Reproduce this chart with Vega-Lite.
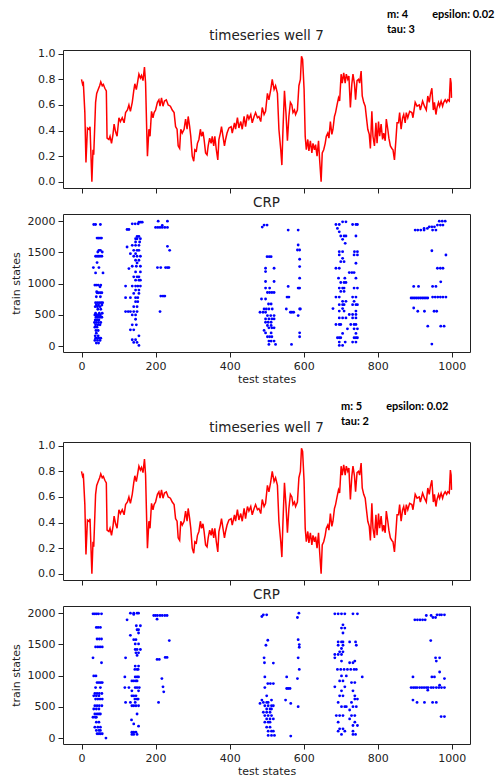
{
"$schema": "https://vega.github.io/schema/vega-lite/v6.json",
"padding": {"left": 9, "top": 8, "right": 0, "bottom": 0},
"background": "white",
"spacing": 15,
"datasets": {
"ts": [{"t":0,"v":0.80},{"t":3,"v":0.76},{"t":5,"v":0.77},{"t":9,"v":0.54},{"t":12,"v":0.15},{"t":16,"v":0.42},{"t":20,"v":0.41},{"t":23,"v":0.43},{"t":25,"v":0.25},{"t":28,"v":0.0},{"t":31,"v":0.25},{"t":33,"v":0.21},{"t":38,"v":0.62},{"t":41,"v":0.69},{"t":45,"v":0.72},{"t":49,"v":0.75},{"t":52,"v":0.78},{"t":56,"v":0.75},{"t":59,"v":0.76},{"t":63,"v":0.73},{"t":67,"v":0.71},{"t":69,"v":0.34},{"t":74,"v":0.33},{"t":77,"v":0.355},{"t":81,"v":0.30},{"t":85,"v":0.37},{"t":88,"v":0.45},{"t":92,"v":0.39},{"t":96,"v":0.355},{"t":101,"v":0.50},{"t":105,"v":0.47},{"t":110,"v":0.50},{"t":115,"v":0.46},{"t":119,"v":0.54},{"t":124,"v":0.56},{"t":128,"v":0.60},{"t":132,"v":0.55},{"t":137,"v":0.62},{"t":141,"v":0.71},{"t":144,"v":0.765},{"t":148,"v":0.72},{"t":151,"v":0.77},{"t":155,"v":0.84},{"t":159,"v":0.81},{"t":162,"v":0.83},{"t":166,"v":0.79},{"t":170,"v":0.895},{"t":173,"v":0.77},{"t":176,"v":0.41},{"t":178,"v":0.20},{"t":182,"v":0.41},{"t":185,"v":0.355},{"t":189,"v":0.55},{"t":193,"v":0.50},{"t":196,"v":0.54},{"t":200,"v":0.56},{"t":205,"v":0.62},{"t":209,"v":0.64},{"t":212,"v":0.59},{"t":216,"v":0.655},{"t":220,"v":0.59},{"t":224,"v":0.63},{"t":229,"v":0.64},{"t":234,"v":0.60},{"t":240,"v":0.59},{"t":245,"v":0.56},{"t":250,"v":0.54},{"t":254,"v":0.43},{"t":258,"v":0.41},{"t":261,"v":0.28},{"t":265,"v":0.26},{"t":268,"v":0.41},{"t":272,"v":0.38},{"t":277,"v":0.41},{"t":281,"v":0.49},{"t":285,"v":0.41},{"t":288,"v":0.51},{"t":292,"v":0.43},{"t":295,"v":0.355},{"t":299,"v":0.20},{"t":303,"v":0.16},{"t":306,"v":0.25},{"t":310,"v":0.24},{"t":313,"v":0.30},{"t":317,"v":0.33},{"t":321,"v":0.41},{"t":324,"v":0.355},{"t":328,"v":0.39},{"t":331,"v":0.33},{"t":335,"v":0.225},{"t":339,"v":0.21},{"t":342,"v":0.28},{"t":346,"v":0.34},{"t":350,"v":0.30},{"t":353,"v":0.355},{"t":357,"v":0.28},{"t":360,"v":0.355},{"t":364,"v":0.25},{"t":368,"v":0.17},{"t":371,"v":0.33},{"t":375,"v":0.38},{"t":378,"v":0.43},{"t":382,"v":0.355},{"t":386,"v":0.28},{"t":389,"v":0.33},{"t":393,"v":0.38},{"t":398,"v":0.42},{"t":404,"v":0.43},{"t":407,"v":0.38},{"t":413,"v":0.46},{"t":416,"v":0.41},{"t":421,"v":0.50},{"t":425,"v":0.42},{"t":430,"v":0.47},{"t":434,"v":0.41},{"t":439,"v":0.51},{"t":443,"v":0.43},{"t":448,"v":0.525},{"t":452,"v":0.49},{"t":457,"v":0.525},{"t":461,"v":0.46},{"t":466,"v":0.51},{"t":470,"v":0.54},{"t":475,"v":0.50},{"t":479,"v":0.51},{"t":484,"v":0.47},{"t":488,"v":0.58},{"t":493,"v":0.525},{"t":497,"v":0.55},{"t":502,"v":0.69},{"t":506,"v":0.64},{"t":511,"v":0.72},{"t":515,"v":0.80},{"t":520,"v":0.72},{"t":524,"v":0.75},{"t":529,"v":0.69},{"t":533,"v":0.41},{"t":538,"v":0.25},{"t":541,"v":0.13},{"t":544,"v":0.41},{"t":548,"v":0.71},{"t":552,"v":0.54},{"t":556,"v":0.32},{"t":560,"v":0.51},{"t":564,"v":0.62},{"t":568,"v":0.60},{"t":571,"v":0.54},{"t":575,"v":0.56},{"t":578,"v":0.525},{"t":583,"v":0.56},{"t":587,"v":0.75},{"t":591,"v":0.80},{"t":594,"v":0.98},{"t":597,"v":0.955},{"t":601,"v":0.72},{"t":604,"v":0.355},{"t":607,"v":0.25},{"t":611,"v":0.33},{"t":614,"v":0.24},{"t":618,"v":0.32},{"t":622,"v":0.225},{"t":625,"v":0.30},{"t":629,"v":0.25},{"t":632,"v":0.29},{"t":636,"v":0.20},{"t":640,"v":0.32},{"t":643,"v":0.17},{"t":647,"v":0.0},{"t":650,"v":0.225},{"t":654,"v":0.25},{"t":658,"v":0.30},{"t":661,"v":0.355},{"t":665,"v":0.38},{"t":668,"v":0.34},{"t":672,"v":0.47},{"t":676,"v":0.37},{"t":679,"v":0.41},{"t":683,"v":0.51},{"t":686,"v":0.54},{"t":690,"v":0.60},{"t":694,"v":0.655},{"t":697,"v":0.63},{"t":701,"v":0.84},{"t":704,"v":0.77},{"t":708,"v":0.85},{"t":712,"v":0.77},{"t":715,"v":0.84},{"t":719,"v":0.80},{"t":722,"v":0.825},{"t":726,"v":0.58},{"t":730,"v":0.765},{"t":733,"v":0.84},{"t":737,"v":0.765},{"t":740,"v":0.64},{"t":744,"v":0.79},{"t":748,"v":0.80},{"t":751,"v":0.77},{"t":755,"v":0.865},{"t":758,"v":0.67},{"t":762,"v":0.62},{"t":766,"v":0.59},{"t":769,"v":0.51},{"t":773,"v":0.41},{"t":777,"v":0.37},{"t":780,"v":0.26},{"t":784,"v":0.55},{"t":787,"v":0.355},{"t":791,"v":0.28},{"t":795,"v":0.46},{"t":798,"v":0.30},{"t":802,"v":0.47},{"t":805,"v":0.355},{"t":809,"v":0.45},{"t":813,"v":0.33},{"t":816,"v":0.38},{"t":820,"v":0.32},{"t":823,"v":0.49},{"t":827,"v":0.41},{"t":830,"v":0.34},{"t":834,"v":0.28},{"t":838,"v":0.26},{"t":841,"v":0.25},{"t":845,"v":0.17},{"t":849,"v":0.33},{"t":852,"v":0.46},{"t":856,"v":0.46},{"t":859,"v":0.54},{"t":863,"v":0.41},{"t":867,"v":0.50},{"t":870,"v":0.525},{"t":874,"v":0.46},{"t":877,"v":0.54},{"t":881,"v":0.50},{"t":886,"v":0.55},{"t":892,"v":0.54},{"t":895,"v":0.50},{"t":901,"v":0.62},{"t":906,"v":0.59},{"t":912,"v":0.60},{"t":915,"v":0.56},{"t":921,"v":0.63},{"t":926,"v":0.59},{"t":931,"v":0.56},{"t":935,"v":0.67},{"t":939,"v":0.62},{"t":942,"v":0.68},{"t":946,"v":0.73},{"t":950,"v":0.56},{"t":953,"v":0.62},{"t":957,"v":0.525},{"t":960,"v":0.58},{"t":964,"v":0.62},{"t":967,"v":0.59},{"t":971,"v":0.63},{"t":975,"v":0.59},{"t":978,"v":0.62},{"t":982,"v":0.64},{"t":986,"v":0.62},{"t":989,"v":0.64},{"t":993,"v":0.63},{"t":996,"v":0.81},{"t":998,"v":0.77},{"t":999,"v":0.655}],
"crp1": [{"x":33,"y":1947},{"x":38,"y":1947},{"x":51,"y":1947},{"x":42,"y":1729},{"x":46,"y":1729},{"x":50,"y":1729},{"x":54,"y":1729},{"x":47,"y":1533},{"x":51,"y":1533},{"x":44,"y":1507},{"x":56,"y":1507},{"x":38,"y":1438},{"x":42,"y":1438},{"x":46,"y":1438},{"x":50,"y":1438},{"x":55,"y":1438},{"x":42,"y":1337},{"x":32,"y":1257},{"x":47,"y":1257},{"x":38,"y":1172},{"x":58,"y":1172},{"x":36,"y":976},{"x":40,"y":976},{"x":45,"y":976},{"x":52,"y":976},{"x":50,"y":950},{"x":41,"y":870},{"x":42,"y":854},{"x":46,"y":854},{"x":51,"y":854},{"x":55,"y":854},{"x":40,"y":790},{"x":51,"y":790},{"x":38,"y":695},{"x":43,"y":695},{"x":48,"y":695},{"x":53,"y":695},{"x":57,"y":695},{"x":40,"y":658},{"x":46,"y":658},{"x":55,"y":658},{"x":37,"y":631},{"x":43,"y":631},{"x":50,"y":631},{"x":44,"y":589},{"x":52,"y":589},{"x":38,"y":525},{"x":48,"y":525},{"x":56,"y":525},{"x":36,"y":499},{"x":41,"y":499},{"x":46,"y":499},{"x":51,"y":499},{"x":39,"y":462},{"x":44,"y":462},{"x":50,"y":462},{"x":55,"y":462},{"x":37,"y":419},{"x":42,"y":419},{"x":47,"y":419},{"x":35,"y":377},{"x":40,"y":377},{"x":46,"y":377},{"x":52,"y":377},{"x":38,"y":340},{"x":44,"y":340},{"x":50,"y":340},{"x":36,"y":302},{"x":42,"y":302},{"x":39,"y":249},{"x":45,"y":249},{"x":40,"y":207},{"x":37,"y":164},{"x":45,"y":164},{"x":38,"y":127},{"x":41,"y":127},{"x":47,"y":127},{"x":52,"y":127},{"x":36,"y":90},{"x":43,"y":90},{"x":50,"y":90},{"x":40,"y":48},{"x":46,"y":48},
{"x":155,"y":1984},{"x":160,"y":1984},{"x":164,"y":1984},{"x":137,"y":1957},{"x":145,"y":1957},{"x":153,"y":1957},{"x":123,"y":1867},{"x":128,"y":1867},{"x":150,"y":1756},{"x":155,"y":1756},{"x":146,"y":1719},{"x":150,"y":1719},{"x":159,"y":1719},{"x":146,"y":1666},{"x":157,"y":1666},{"x":137,"y":1613},{"x":146,"y":1613},{"x":155,"y":1613},{"x":123,"y":1586},{"x":141,"y":1533},{"x":150,"y":1533},{"x":155,"y":1533},{"x":132,"y":1480},{"x":146,"y":1480},{"x":141,"y":1438},{"x":150,"y":1438},{"x":159,"y":1438},{"x":146,"y":1374},{"x":155,"y":1374},{"x":150,"y":1332},{"x":137,"y":1278},{"x":148,"y":1278},{"x":159,"y":1278},{"x":128,"y":1241},{"x":146,"y":1188},{"x":159,"y":1188},{"x":141,"y":1109},{"x":150,"y":1109},{"x":155,"y":1109},{"x":146,"y":1056},{"x":155,"y":1056},{"x":159,"y":1056},{"x":119,"y":960},{"x":137,"y":960},{"x":146,"y":960},{"x":152,"y":960},{"x":159,"y":960},{"x":146,"y":897},{"x":155,"y":897},{"x":141,"y":843},{"x":155,"y":843},{"x":119,"y":775},{"x":132,"y":775},{"x":146,"y":775},{"x":152,"y":775},{"x":146,"y":711},{"x":152,"y":711},{"x":141,"y":631},{"x":150,"y":631},{"x":119,"y":552},{"x":126,"y":552},{"x":132,"y":552},{"x":141,"y":552},{"x":150,"y":552},{"x":137,"y":499},{"x":146,"y":499},{"x":146,"y":430},{"x":137,"y":340},{"x":148,"y":340},{"x":132,"y":260},{"x":141,"y":260},{"x":155,"y":164},{"x":137,"y":101},{"x":146,"y":101},{"x":141,"y":58},{"x":150,"y":58},{"x":155,"y":11},
{"x":207,"y":2000},{"x":232,"y":2000},{"x":200,"y":1900},{"x":206,"y":1900},{"x":212,"y":1900},{"x":218,"y":1900},{"x":225,"y":1900},{"x":232,"y":1900},{"x":218,"y":1931},{"x":232,"y":1597},{"x":238,"y":1533},{"x":205,"y":1257},{"x":214,"y":1257},{"x":227,"y":1257},{"x":232,"y":1257},{"x":236,"y":1257},{"x":214,"y":801},{"x":220,"y":801},{"x":225,"y":801},{"x":212,"y":552},
{"x":493,"y":1937},{"x":501,"y":1937},{"x":488,"y":1905},{"x":501,"y":1432},{"x":507,"y":1432},{"x":512,"y":1432},{"x":497,"y":1246},{"x":520,"y":1246},{"x":497,"y":1193},{"x":497,"y":1034},{"x":520,"y":1034},{"x":497,"y":928},{"x":508,"y":928},{"x":502,"y":858},{"x":508,"y":858},{"x":514,"y":858},{"x":520,"y":858},{"x":486,"y":754},{"x":497,"y":754},{"x":505,"y":674},{"x":512,"y":674},{"x":493,"y":594},{"x":499,"y":594},{"x":506,"y":594},{"x":515,"y":594},{"x":482,"y":541},{"x":490,"y":541},{"x":497,"y":541},{"x":502,"y":488},{"x":511,"y":488},{"x":520,"y":488},{"x":497,"y":435},{"x":506,"y":435},{"x":514,"y":435},{"x":520,"y":435},{"x":497,"y":382},{"x":504,"y":382},{"x":512,"y":382},{"x":502,"y":330},{"x":512,"y":330},{"x":506,"y":292},{"x":514,"y":292},{"x":520,"y":292},{"x":493,"y":250},{"x":497,"y":210},{"x":512,"y":210},{"x":502,"y":149},{"x":508,"y":149},{"x":514,"y":149},{"x":506,"y":80},{"x":512,"y":80},{"x":520,"y":80},{"x":506,"y":27},{"x":524,"y":27},
{"x":558,"y":1857},{"x":585,"y":1857},{"x":585,"y":1618},{"x":583,"y":1538},{"x":589,"y":1538},{"x":589,"y":1390},{"x":589,"y":1273},{"x":589,"y":1087},{"x":558,"y":955},{"x":585,"y":928},{"x":589,"y":928},{"x":555,"y":785},{"x":560,"y":785},{"x":553,"y":594},{"x":589,"y":594},{"x":591,"y":594},{"x":564,"y":541},{"x":568,"y":541},{"x":573,"y":541},{"x":585,"y":488},{"x":589,"y":212},{"x":589,"y":149},{"x":567,"y":27},
{"x":705,"y":1989},{"x":714,"y":1989},{"x":687,"y":1947},{"x":696,"y":1947},{"x":732,"y":1947},{"x":741,"y":1947},{"x":745,"y":1947},{"x":691,"y":1884},{"x":696,"y":1830},{"x":700,"y":1763},{"x":709,"y":1763},{"x":714,"y":1763},{"x":741,"y":1763},{"x":705,"y":1709},{"x":712,"y":1645},{"x":696,"y":1512},{"x":705,"y":1512},{"x":737,"y":1512},{"x":745,"y":1512},{"x":696,"y":1460},{"x":736,"y":1460},{"x":745,"y":1460},{"x":705,"y":1405},{"x":700,"y":1352},{"x":709,"y":1352},{"x":741,"y":1326},{"x":687,"y":1246},{"x":696,"y":1246},{"x":723,"y":1177},{"x":730,"y":1177},{"x":736,"y":1177},{"x":694,"y":1087},{"x":711,"y":1087},{"x":741,"y":1087},{"x":700,"y":1018},{"x":709,"y":1018},{"x":714,"y":1018},{"x":696,"y":928},{"x":705,"y":928},{"x":709,"y":928},{"x":736,"y":928},{"x":745,"y":928},{"x":700,"y":875},{"x":709,"y":875},{"x":687,"y":785},{"x":696,"y":785},{"x":732,"y":785},{"x":741,"y":785},{"x":705,"y":717},{"x":714,"y":717},{"x":736,"y":717},{"x":696,"y":663},{"x":705,"y":663},{"x":709,"y":663},{"x":732,"y":663},{"x":741,"y":663},{"x":745,"y":663},{"x":679,"y":600},{"x":705,"y":600},{"x":696,"y":560},{"x":709,"y":560},{"x":741,"y":560},{"x":723,"y":505},{"x":732,"y":505},{"x":741,"y":505},{"x":696,"y":451},{"x":705,"y":451},{"x":714,"y":451},{"x":732,"y":451},{"x":741,"y":451},{"x":687,"y":345},{"x":696,"y":345},{"x":700,"y":345},{"x":727,"y":345},{"x":736,"y":345},{"x":741,"y":345},{"x":718,"y":276},{"x":736,"y":276},{"x":745,"y":276},{"x":705,"y":202},{"x":741,"y":202},{"x":691,"y":133},{"x":696,"y":133},{"x":700,"y":133},{"x":736,"y":133},{"x":741,"y":133},{"x":745,"y":133},{"x":696,"y":64},{"x":712,"y":64},{"x":732,"y":64},{"x":741,"y":64},{"x":696,"y":11},{"x":705,"y":11},
{"x":966,"y":2000},{"x":974,"y":2000},{"x":982,"y":2000},{"x":961,"y":1937},{"x":969,"y":1937},{"x":976,"y":1937},{"x":939,"y":1910},{"x":946,"y":1910},{"x":953,"y":1910},{"x":925,"y":1884},{"x":934,"y":1884},{"x":901,"y":1857},{"x":908,"y":1857},{"x":916,"y":1857},{"x":925,"y":1857},{"x":948,"y":1857},{"x":957,"y":1857},{"x":946,"y":1527},{"x":984,"y":1458},{"x":961,"y":1246},{"x":969,"y":1246},{"x":976,"y":1246},{"x":970,"y":1029},{"x":897,"y":955},{"x":910,"y":955},{"x":948,"y":955},{"x":957,"y":955},{"x":890,"y":770},{"x":895,"y":770},{"x":900,"y":770},{"x":905,"y":770},{"x":910,"y":770},{"x":915,"y":770},{"x":920,"y":770},{"x":925,"y":770},{"x":930,"y":770},{"x":935,"y":770},{"x":948,"y":785},{"x":955,"y":785},{"x":962,"y":785},{"x":969,"y":785},{"x":976,"y":785},{"x":984,"y":785},{"x":897,"y":610},{"x":908,"y":557},{"x":926,"y":557},{"x":952,"y":557},{"x":959,"y":557},{"x":935,"y":319},{"x":970,"y":319},{"x":979,"y":319},{"x":946,"y":32}],
"crp2": [{"x":31,"y":1989},{"x":36,"y":1989},{"x":41,"y":1989},{"x":46,"y":1989},{"x":54,"y":1989},{"x":40,"y":1772},{"x":45,"y":1772},{"x":51,"y":1772},{"x":42,"y":1587},{"x":48,"y":1587},{"x":54,"y":1587},{"x":38,"y":1460},{"x":44,"y":1460},{"x":50,"y":1460},{"x":56,"y":1460},{"x":31,"y":1285},{"x":54,"y":1206},{"x":33,"y":995},{"x":39,"y":995},{"x":42,"y":889},{"x":47,"y":889},{"x":52,"y":889},{"x":56,"y":889},{"x":38,"y":809},{"x":51,"y":809},{"x":36,"y":714},{"x":42,"y":714},{"x":48,"y":714},{"x":55,"y":714},{"x":33,"y":677},{"x":40,"y":677},{"x":47,"y":677},{"x":38,"y":624},{"x":44,"y":624},{"x":50,"y":624},{"x":56,"y":624},{"x":36,"y":518},{"x":42,"y":518},{"x":48,"y":518},{"x":55,"y":518},{"x":33,"y":466},{"x":40,"y":466},{"x":47,"y":466},{"x":36,"y":386},{"x":42,"y":386},{"x":47,"y":386},{"x":51,"y":386},{"x":31,"y":333},{"x":37,"y":333},{"x":40,"y":333},{"x":40,"y":254},{"x":47,"y":254},{"x":36,"y":175},{"x":44,"y":175},{"x":51,"y":175},{"x":40,"y":122},{"x":47,"y":122},{"x":51,"y":122},{"x":42,"y":69},{"x":47,"y":69},{"x":51,"y":69},{"x":56,"y":69},{"x":66,"y":0},
{"x":132,"y":2000},{"x":141,"y":2000},{"x":150,"y":2000},{"x":154,"y":2000},{"x":141,"y":1980},{"x":123,"y":1894},{"x":148,"y":1799},{"x":159,"y":1799},{"x":150,"y":1735},{"x":154,"y":1735},{"x":154,"y":1682},{"x":132,"y":1645},{"x":141,"y":1576},{"x":147,"y":1576},{"x":145,"y":1508},{"x":154,"y":1508},{"x":145,"y":1418},{"x":150,"y":1418},{"x":159,"y":1418},{"x":147,"y":1365},{"x":154,"y":1365},{"x":150,"y":1323},{"x":119,"y":1285},{"x":145,"y":1153},{"x":154,"y":1153},{"x":144,"y":1100},{"x":150,"y":1100},{"x":153,"y":1100},{"x":117,"y":979},{"x":145,"y":979},{"x":150,"y":979},{"x":154,"y":979},{"x":136,"y":915},{"x":141,"y":915},{"x":147,"y":915},{"x":150,"y":915},{"x":117,"y":809},{"x":128,"y":809},{"x":145,"y":809},{"x":150,"y":809},{"x":156,"y":809},{"x":136,"y":756},{"x":154,"y":756},{"x":136,"y":677},{"x":141,"y":677},{"x":147,"y":677},{"x":144,"y":624},{"x":150,"y":624},{"x":153,"y":624},{"x":119,"y":571},{"x":132,"y":571},{"x":145,"y":571},{"x":136,"y":518},{"x":141,"y":518},{"x":147,"y":518},{"x":154,"y":518},{"x":150,"y":386},{"x":135,"y":291},{"x":141,"y":227},{"x":154,"y":190},{"x":136,"y":95},{"x":141,"y":95},{"x":147,"y":95},{"x":136,"y":58},{"x":141,"y":58},{"x":150,"y":58},
{"x":195,"y":1963},{"x":200,"y":1963},{"x":205,"y":1963},{"x":212,"y":1963},{"x":218,"y":1963},{"x":225,"y":1963},{"x":231,"y":1963},{"x":204,"y":1904},{"x":237,"y":1561},{"x":204,"y":1259},{"x":210,"y":1259},{"x":226,"y":1291},{"x":231,"y":1291},{"x":217,"y":952},{"x":220,"y":820},{"x":222,"y":741},{"x":208,"y":571},
{"x":491,"y":1973},{"x":500,"y":1973},{"x":487,"y":1947},{"x":503,"y":1566},{"x":498,"y":1487},{"x":493,"y":1285},{"x":494,"y":1206},{"x":518,"y":1201},{"x":495,"y":979},{"x":503,"y":873},{"x":510,"y":873},{"x":518,"y":873},{"x":495,"y":809},{"x":500,"y":677},{"x":487,"y":608},{"x":513,"y":608},{"x":482,"y":555},{"x":491,"y":571},{"x":500,"y":571},{"x":504,"y":571},{"x":495,"y":518},{"x":504,"y":518},{"x":513,"y":518},{"x":518,"y":518},{"x":500,"y":466},{"x":509,"y":466},{"x":513,"y":466},{"x":491,"y":413},{"x":500,"y":413},{"x":509,"y":413},{"x":495,"y":360},{"x":504,"y":360},{"x":513,"y":360},{"x":500,"y":307},{"x":509,"y":307},{"x":518,"y":307},{"x":495,"y":254},{"x":504,"y":254},{"x":509,"y":254},{"x":500,"y":175},{"x":509,"y":175},{"x":504,"y":111},{"x":513,"y":111},{"x":518,"y":111},{"x":504,"y":42},{"x":513,"y":42},{"x":521,"y":42},
{"x":587,"y":2000},{"x":583,"y":1931},{"x":585,"y":1576},{"x":588,"y":1497},{"x":588,"y":1455},{"x":585,"y":1285},{"x":588,"y":1100},{"x":554,"y":979},{"x":583,"y":952},{"x":554,"y":794},{"x":558,"y":794},{"x":563,"y":794},{"x":551,"y":608},{"x":565,"y":555},{"x":585,"y":503},{"x":565,"y":32},
{"x":684,"y":1989},{"x":693,"y":1989},{"x":702,"y":1989},{"x":711,"y":1989},{"x":733,"y":1989},{"x":745,"y":1989},{"x":706,"y":1814},{"x":702,"y":1762},{"x":711,"y":1762},{"x":706,"y":1682},{"x":693,"y":1540},{"x":702,"y":1540},{"x":706,"y":1540},{"x":724,"y":1540},{"x":740,"y":1540},{"x":693,"y":1487},{"x":706,"y":1487},{"x":742,"y":1487},{"x":702,"y":1434},{"x":697,"y":1381},{"x":706,"y":1381},{"x":684,"y":1338},{"x":693,"y":1338},{"x":702,"y":1338},{"x":684,"y":1285},{"x":702,"y":1233},{"x":738,"y":1233},{"x":724,"y":1206},{"x":733,"y":1206},{"x":691,"y":1100},{"x":700,"y":1100},{"x":709,"y":1100},{"x":718,"y":1100},{"x":727,"y":1100},{"x":736,"y":1100},{"x":742,"y":1100},{"x":702,"y":995},{"x":715,"y":995},{"x":758,"y":979},{"x":697,"y":915},{"x":706,"y":915},{"x":729,"y":889},{"x":738,"y":889},{"x":684,"y":820},{"x":711,"y":820},{"x":702,"y":756},{"x":733,"y":756},{"x":697,"y":677},{"x":706,"y":677},{"x":738,"y":677},{"x":738,"y":624},{"x":745,"y":624},{"x":693,"y":571},{"x":729,"y":571},{"x":702,"y":503},{"x":711,"y":503},{"x":715,"y":503},{"x":733,"y":503},{"x":742,"y":503},{"x":724,"y":450},{"x":688,"y":360},{"x":697,"y":360},{"x":706,"y":360},{"x":729,"y":360},{"x":738,"y":360},{"x":724,"y":307},{"x":693,"y":254},{"x":738,"y":254},{"x":733,"y":201},{"x":745,"y":201},{"x":697,"y":148},{"x":706,"y":148},{"x":693,"y":111},{"x":711,"y":111},{"x":733,"y":111},{"x":702,"y":58},{"x":733,"y":58},{"x":740,"y":58},
{"x":931,"y":1963},{"x":944,"y":1963},{"x":960,"y":1973},{"x":967,"y":1973},{"x":972,"y":1973},{"x":980,"y":1973},{"x":949,"y":1931},{"x":956,"y":1931},{"x":900,"y":1894},{"x":907,"y":1894},{"x":914,"y":1894},{"x":921,"y":1894},{"x":928,"y":1894},{"x":943,"y":1561},{"x":956,"y":1285},{"x":967,"y":1285},{"x":958,"y":1233},{"x":967,"y":1058},{"x":895,"y":979},{"x":946,"y":979},{"x":953,"y":979},{"x":980,"y":952},{"x":890,"y":809},{"x":896,"y":809},{"x":901,"y":809},{"x":906,"y":809},{"x":913,"y":809},{"x":919,"y":809},{"x":925,"y":809},{"x":931,"y":809},{"x":936,"y":809},{"x":944,"y":809},{"x":950,"y":809},{"x":958,"y":809},{"x":965,"y":809},{"x":972,"y":809},{"x":980,"y":809},{"x":935,"y":767},{"x":967,"y":846},{"x":895,"y":608},{"x":906,"y":571},{"x":926,"y":571},{"x":948,"y":571},{"x":958,"y":571},{"x":971,"y":344},{"x":980,"y":344}]
},
"vconcat": [
{
"title": {"text": ["m: 4\u00a0\u00a0\u00a0\u00a0\u00a0\u00a0\u00a0\u00a0\u00a0epsilon: 0.02", "tau: 3"], "anchor": "start", "frame": "group", "dx": 324, "offset": -6, "font": "Lato", "fontSize": 11, "fontWeight": "bold", "color": "#000", "lineHeight": 15, "align": "left"},
"spacing": 1,
"vconcat": [
{"width": 407, "height": 138, "title": "timeseries well 7", "data": {"name": "ts"},
"mark": {"type": "line", "color": "#ff0000", "strokeWidth": 1.5, "clip": true},
"encoding": {
"x": {"field": "t", "type": "quantitative", "scale": {"domain": [-50, 1049], "nice": false, "zero": false}, "axis": {"labels": false, "title": null, "values": [0, 200, 400, 600, 800, 1000]}},
"y": {"field": "v", "type": "quantitative", "scale": {"domain": [-0.049, 1.029], "nice": false, "zero": false}, "axis": {"values": [0, 0.2, 0.4, 0.6, 0.8, 1.0], "format": ".1f", "title": null}}}},
{"width": 407, "height": 138, "title": "CRP", "data": {"name": "crp1"},
"mark": {"type": "point", "filled": true, "color": "#0000ff", "size": 8, "opacity": 1},
"encoding": {
"x": {"field": "x", "type": "quantitative", "scale": {"domain": [-50, 1049], "nice": false, "zero": false}, "axis": {"values": [0, 200, 400, 600, 800, 1000], "format": "d", "title": "test states"}},
"y": {"field": "y", "type": "quantitative", "scale": {"domain": [-95, 2115], "nice": false, "zero": false}, "axis": {"values": [0, 500, 1000, 1500, 2000], "format": "d", "title": "train states"}}}}
]
},
{
"title": {"text": ["m: 5\u00a0\u00a0\u00a0\u00a0\u00a0\u00a0\u00a0\u00a0\u00a0epsilon: 0.02", "tau: 2"], "anchor": "start", "frame": "group", "dx": 278, "offset": -6, "font": "Lato", "fontSize": 11, "fontWeight": "bold", "color": "#000", "lineHeight": 15, "align": "left"},
"spacing": 1,
"vconcat": [
{"width": 407, "height": 138, "title": "timeseries well 7", "data": {"name": "ts"},
"mark": {"type": "line", "color": "#ff0000", "strokeWidth": 1.5, "clip": true},
"encoding": {
"x": {"field": "t", "type": "quantitative", "scale": {"domain": [-50, 1049], "nice": false, "zero": false}, "axis": {"labels": false, "title": null, "values": [0, 200, 400, 600, 800, 1000]}},
"y": {"field": "v", "type": "quantitative", "scale": {"domain": [-0.049, 1.029], "nice": false, "zero": false}, "axis": {"values": [0, 0.2, 0.4, 0.6, 0.8, 1.0], "format": ".1f", "title": null}}}},
{"width": 407, "height": 138, "title": "CRP", "data": {"name": "crp2"},
"mark": {"type": "point", "filled": true, "color": "#0000ff", "size": 8, "opacity": 1},
"encoding": {
"x": {"field": "x", "type": "quantitative", "scale": {"domain": [-50, 1049], "nice": false, "zero": false}, "axis": {"values": [0, 200, 400, 600, 800, 1000], "format": "d", "title": "test states"}},
"y": {"field": "y", "type": "quantitative", "scale": {"domain": [-95, 2115], "nice": false, "zero": false}, "axis": {"values": [0, 500, 1000, 1500, 2000], "format": "d", "title": "train states"}}}}
]
}
],
"config": {
"view": {"stroke": "#222", "strokeWidth": 1},
"axis": {"domain": false, "grid": false, "ticks": true, "tickColor": "#222", "tickSize": 5, "tickWidth": 1, "labelFont": "DejaVu Sans", "labelFontSize": 11, "labelColor": "#222", "labelPadding": 3, "titleFont": "DejaVu Sans", "titleFontSize": 11, "titleFontWeight": "normal", "titleColor": "#222"},
"axisX": {"titlePadding": 2},
"axisY": {"titlePadding": 6},
"title": {"font": "DejaVu Sans", "fontSize": 13.5, "fontWeight": "normal", "color": "#222", "offset": 5}
}
}
